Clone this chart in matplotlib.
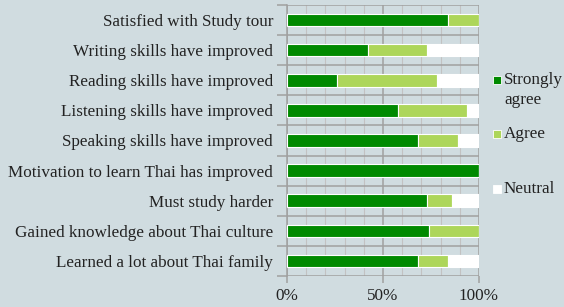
import numpy as np
import matplotlib.pyplot as plt
from matplotlib.patches import Rectangle
from matplotlib.ticker import MultipleLocator, FixedLocator

categories = ['Satisfied with Study tour', 'Writing skills have improved',
              'Reading skills have improved', 'Listening skills have improved',
              'Speaking skills have improved', 'Motivation to learn Thai has improved',
              'Must study harder', 'Gained knowledge about Thai culture',
              'Learned a lot about Thai family']
strongly = [84, 42, 26, 58, 68, 100, 73, 74, 68]
agree = [16, 31, 52, 36, 21, 0, 13, 26, 16]
neutral = [0, 27, 22, 6, 11, 0, 14, 0, 16]
series = ['Strongly\nagree', 'Agree', 'Neutral']
colors = ['#008a00', '#add65a', '#ffffff']
bg = '#d0dce0'

plt.rcParams['font.family'] = ['Liberation Serif']
fig = plt.figure(figsize=(5.64, 3.07), dpi=100, facecolor=bg)
ax = fig.add_axes([287/564, 1 - 276/307, 192/564, 271/307], facecolor=bg)

y = np.arange(len(categories))
left = np.zeros(len(categories))
for vals, c, lab in zip([strongly, agree, neutral], colors, series):
    ax.barh(y, vals, left=left, height=0.42, color=c, edgecolor='white',
            linewidth=0.8, label=lab, zorder=3)
    left += np.array(vals)

ax.set_xlim(0, 100)
ax.set_ylim(len(categories) - 0.5, -0.5)
ax.xaxis.set_major_locator(MultipleLocator(50))
ax.xaxis.set_minor_locator(MultipleLocator(10))
ax.xaxis.set_major_formatter(lambda v, p: f'{v:.0f}%')
ax.grid(axis='x', which='minor', color='#c2c2c2', linewidth=0.8, zorder=0)
ax.grid(axis='x', which='major', color='#a0a0a0', linewidth=1.1, zorder=1)
ax.set_yticks(y)
ax.set_yticklabels(categories, fontsize=12.3, color='#222222')
ax.yaxis.set_minor_locator(FixedLocator(np.arange(-0.5, len(categories), 1)))
ax.grid(axis='y', which='minor', color='#a0a0a0', linewidth=1.1, zorder=1)
ax.tick_params(axis='y', which='major', length=0, pad=10)
ax.tick_params(axis='y', which='minor', length=7, color='#a0a0a0', width=1.1)
ax.tick_params(axis='x', which='major', length=5, color='#a0a0a0', width=1.1,
               labelsize=12.3, pad=4, labelcolor='#222222')
ax.tick_params(axis='x', which='minor', length=0)
for s in ['top', 'right', 'bottom']:
    ax.spines[s].set_visible(False)
ax.spines['left'].set_color('#a0a0a0')
ax.spines['left'].set_linewidth(1.1)

# legend drawn by hand: square beside the first line of each label
W, H = 564, 307
for lab, c, yc in zip(series, colors, [80, 134, 189]):
    fig.add_artist(Rectangle((493 / W, 1 - (yc + 4) / H), 8 / W, 8 / H,
                             transform=fig.transFigure, facecolor=c,
                             edgecolor='white', linewidth=0.6))
    fig.text(504 / W, 1 - (yc - 8) / H, lab, fontsize=12.3, color='#222222',
             va='top', ha='left', linespacing=1.3)

fig.savefig('out.png', dpi=100, facecolor=bg)
